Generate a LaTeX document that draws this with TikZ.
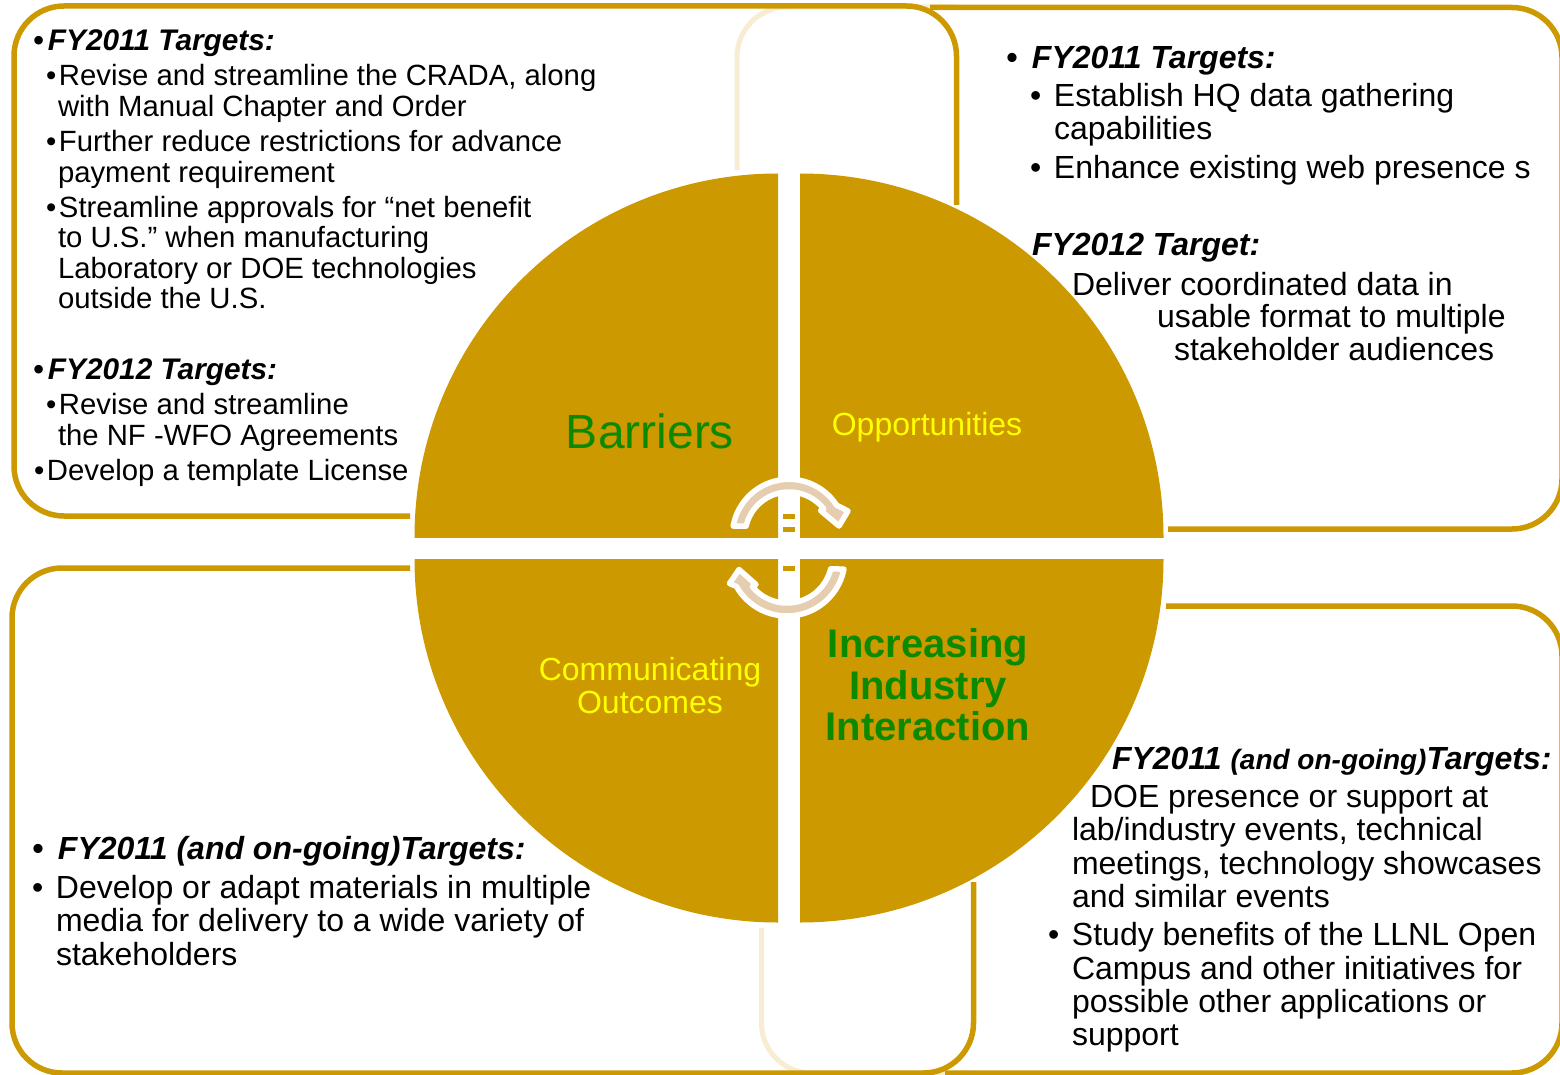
\documentclass[tikz,border=0pt]{standalone}
\usepackage{fontspec}
\setmainfont{Liberation Sans}
\definecolor{gold}{HTML}{CC9900}
\definecolor{faint}{HTML}{F8EDD2}
\definecolor{arrowtan}{HTML}{E5CDB0}
\definecolor{lblgreen}{HTML}{0B8A00}
\definecolor{lblyellow}{HTML}{FFFF00}
\newcommand{\bodyfont}{\fontsize{29.3}{32}\selectfont}
\newcommand{\headfont}{\fontsize{29.8}{32}\selectfont\bfseries\itshape}
\newcommand{\rfont}{\fontsize{32}{34}\selectfont}
\newcommand{\rhead}{\fontsize{32}{34}\selectfont\bfseries\itshape}
\newcommand{\tl}[5][\bodyfont]{\node[txt,font=#1] (#2) at (#3,#4) {#5};}
\newcommand{\bl}[1]{\makebox[#1pt][l]{•}}
\tikzset{
  txt/.style={anchor=base west,inner sep=0pt,outer sep=0pt,text=black},
  panel/.style={draw=gold,line width=5.5pt,rounded corners=50pt,line cap=butt},
  ghost/.style={draw=faint,line width=5pt,rounded corners=50pt},
  quad/.style={fill=gold,draw=none},
  cyc/.style={fill=arrowtan,draw=white,line width=5.5pt,line join=round},
  gapmark/.style={fill=gold,draw=none},
  lbl/.style={anchor=base,inner sep=0pt,outer sep=0pt}
}
\begin{document}
\begin{tikzpicture}[x=1pt,y=-1pt]
\useasboundingbox (0,0) rectangle (1560,1075);
\clip (0,0) rectangle (1560,1075);
\fill[white] (0,0) rectangle (1560,1075);
% faint outlines
\draw[ghost] (737,170) -- (737,7) -- (957,7);
\draw[ghost] (761.5,928) -- (761.5,1073) -- (973,1073);
% panels
\draw[panel] (1168,529) -- (1562,529) -- (1562,7.5) -- (930,7.5);
\draw[panel] (1166,606) -- (1562,606) -- (1562,1073) -- (945,1073);
\draw[panel] (410,516) -- (14,516) -- (14,6) -- (956.5,6) -- (956.5,205);
\draw[panel] (410,568) -- (12,568) -- (12,1073) -- (973.5,1073) -- (973.5,882);
% quadrants
\begin{scope}\clip (400,160) rectangle (778,537); \fill[quad] (778,537) circle[radius=363.5pt]; \end{scope}
\begin{scope}\clip (800,160) rectangle (1180,537); \fill[quad] (800,537) circle[radius=363.5pt]; \end{scope}
\begin{scope}\clip (400,559) rectangle (778,940); \fill[quad] (778,559) circle[radius=363.5pt]; \end{scope}
\begin{scope}\clip (800,559) rectangle (1180,940); \fill[quad] (800,559) circle[radius=363.5pt]; \end{scope}
% gap marks
\fill[gapmark] (783.3,514) rectangle (795,519);
\fill[gapmark] (783.3,526.7) rectangle (795,531.7);
\fill[gapmark] (783.3,566) rectangle (795,571);
% cycle arrows
\draw[cyc] plot[domain=170:33,samples=50] ({789+56.7*cos(\x)},{536-56.7*sin(\x)})
  -- (848,511) -- (839,526) -- (820.5,510.5)
  -- plot[domain=38:167,samples=50] ({789+44*cos(\x)},{536-44*sin(\x)}) -- cycle;
\draw[cyc] plot[domain=-11:-150.6,samples=50] ({787+58*cos(\x)},{558-58*sin(\x)})
  -- (729.5,583.5) -- (739,569.5) -- (756,584.5)
  -- plot[domain=-140.3:-14,samples=50] ({787+45*cos(\x)},{558-45*sin(\x)}) -- cycle;
% quadrant labels
\node[lbl,font=\fontsize{48}{50}\selectfont,text=lblgreen] (barriers) at (650,448) {Barriers};
\node[lbl,font=\fontsize{32}{34}\selectfont,text=lblyellow] (opps) at (927,435) {Opportunities};
\node[lbl,font=\fontsize{32}{34}\selectfont,text=lblyellow] (comm1) at (650,680) {Communicating};
\node[lbl,font=\fontsize{32}{34}\selectfont,text=lblyellow] (comm2) at (650,713) {Outcomes};
\node[lbl,font=\fontsize{40}{42}\selectfont\bfseries,text=lblgreen] (ind1) at (928,657) {Increasing};
\node[lbl,font=\fontsize{40}{42}\selectfont\bfseries,text=lblgreen] (ind2) at (928,699) {Industry};
\node[lbl,font=\fontsize{40}{42}\selectfont\bfseries,text=lblgreen] (ind3) at (928,740) {Interaction};
% top-left text
\tl[\headfont]{a1}{33}{50.5}{\bl{15}FY2011 Targets:}
\tl{a2}{46}{85.5}{\bl{13}Revise and streamline the CRADA, along}
\tl{a3}{58}{116.5}{with Manual Chapter and Order}
\tl{a4}{46}{151.5}{\bl{13}Further reduce restrictions for advance}
\tl{a5}{58}{182.5}{payment requirement}
\tl{a6}{46}{217.5}{\bl{13}Streamline approvals for “net benefit}
\tl{a7}{58}{247.5}{to U.S.” when manufacturing}
\tl{a8}{58}{278.5}{Laboratory or DOE technologies}
\tl{a9}{58}{308}{outside the U.S.}
\tl[\headfont]{a10}{33}{379}{\bl{15}FY2012 Targets:}
\tl{a11}{46}{414}{\bl{13}Revise and streamline}
\tl{a12}{58}{445}{the NF -WFO Agreements}
\tl{a13}{34}{480}{\bl{13}Develop a template License}
% top-right text
\tl[\rhead]{b1}{1006}{69}{\bl{26}FY2011 Targets:}
\tl[\rfont]{b2}{1030}{107}{\bl{24}Establish HQ data gathering}
\tl[\rfont]{b3}{1054}{140}{capabilities}
\tl[\rfont]{b4}{1030}{179}{\bl{24}Enhance existing web presence s}
\tl[\rhead]{b5}{1032}{256}{FY2012 Target:}
\tl[\rfont]{b6}{1072}{295}{Deliver coordinated data in}
\tl[\rfont]{b7}{1157}{327}{usable format to multiple}
\tl[\rfont]{b8}{1174}{360}{stakeholder audiences}
% bottom-left text
\tl[\rhead]{c1}{32}{859}{\bl{26}FY2011 (and on-going)Targets:}
\tl[\rfont]{c2}{32}{898}{\bl{24}Develop or adapt materials in multiple}
\tl[\rfont]{c3}{56}{931}{media for delivery to a wide variety of}
\tl[\rfont]{c4}{56}{965}{stakeholders}
% bottom-right text
\tl[\rhead]{d1}{1112}{769}{FY2011 {\fontsize{28}{30}\selectfont (and on-going)}Targets:}
\tl[\rfont]{d2}{1090}{807}{DOE presence or support at}
\tl[\rfont]{d3}{1072}{840}{lab/industry events, technical}
\tl[\rfont]{d4}{1072}{874}{meetings, technology showcases}
\tl[\rfont]{d5}{1072}{907}{and similar events}
\tl[\rfont]{d6}{1048}{945}{\bl{24}Study benefits of the LLNL Open}
\tl[\rfont]{d7}{1072}{979}{Campus and other initiatives for}
\tl[\rfont]{d8}{1072}{1012}{possible other applications or}
\tl[\rfont]{d9}{1072}{1045}{support}
\end{tikzpicture}
\end{document}
